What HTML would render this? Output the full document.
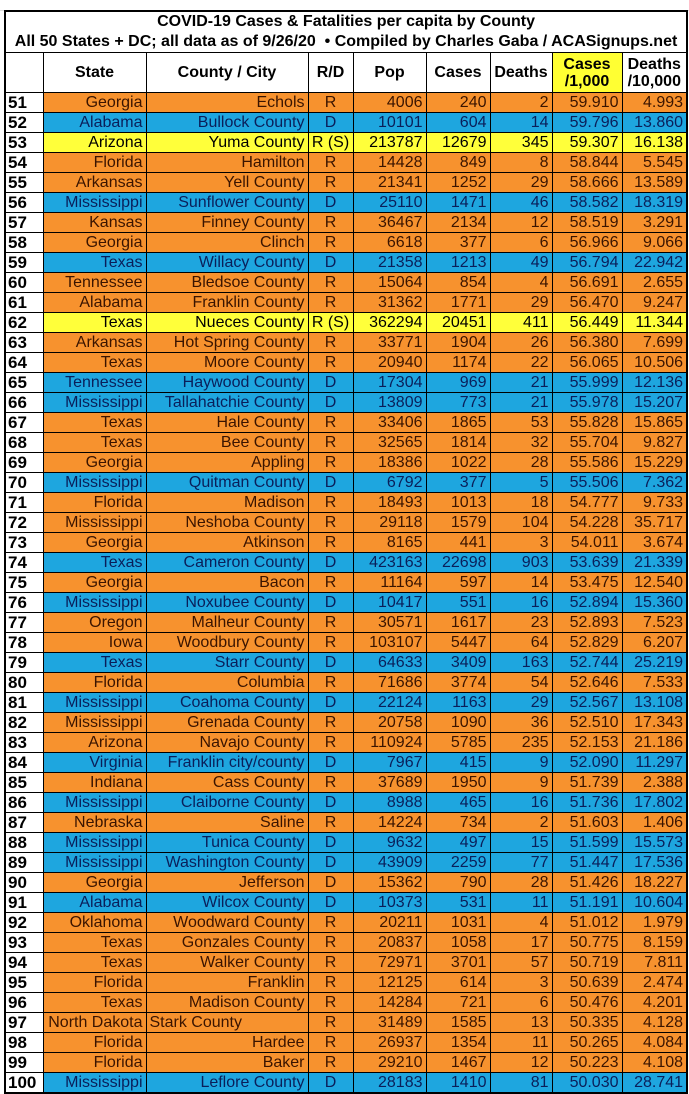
<!DOCTYPE html>
<html><head><meta charset="utf-8"><style>
body{margin:0;width:689px;height:1094px;background:#fff;overflow:hidden;position:relative;font-family:"Liberation Sans Narrow","Liberation Sans",sans-serif;}
.grid{position:absolute;left:0;top:0;width:689px;height:10px;border-bottom:1px solid #ddd}
table{position:absolute;left:4px;top:10px;border-collapse:collapse;table-layout:fixed;width:682px}
td{border:1px solid #000;padding:0 3px;height:19px;line-height:19px;font-size:16px;white-space:nowrap;overflow:hidden;text-align:right}
tr.t td{border:none;font-weight:bold;text-align:center;height:20px;line-height:20px;font-size:16px;padding:0}
tr.t.last td{border-bottom:1px solid #000}
tr.h td{height:39px;line-height:17px;font-weight:bold;text-align:center;background:#fff;font-size:16px;padding:0}
tr.h td.y{background:#ffff33}
td.n{font-weight:bold;text-align:left;background:#fff;color:#000;padding-left:2px;font-size:17px}
td.c{text-align:center}
tr.o td{background:#f7922e;color:#3a1400}
tr.b td{background:#1ea6df;color:#0a1f5a}
tr.y td{background:#ffff3a;color:#000}
tr td.n{background:#fff;color:#000}
table{border:2px solid #000}
</style></head><body>
<div class="grid"></div>
<table>
<colgroup><col style="width:38px"><col style="width:103px"><col style="width:162px"><col style="width:45px"><col style="width:73px"><col style="width:64px"><col style="width:62px"><col style="width:70px"><col style="width:65px"></colgroup>
<tr class="t"><td colspan="9">COVID-19 Cases &amp; Fatalities per capita by County</td></tr>
<tr class="t last"><td colspan="9">All 50 States + DC; all data as of 9/26/20 &nbsp;• Compiled by Charles Gaba / ACASignups.net</td></tr>
<tr class="h"><td></td><td>State</td><td>County / City</td><td>R/D</td><td>Pop</td><td>Cases</td><td>Deaths</td><td class="y">Cases<br>/1,000</td><td>Deaths<br>/10,000</td></tr>
<tr class="o"><td class="n">51</td><td>Georgia</td><td>Echols</td><td class="c">R</td><td>4006</td><td>240</td><td>2</td><td>59.910</td><td>4.993</td></tr>
<tr class="b"><td class="n">52</td><td>Alabama</td><td>Bullock County</td><td class="c">D</td><td>10101</td><td>604</td><td>14</td><td>59.796</td><td>13.860</td></tr>
<tr class="y"><td class="n">53</td><td>Arizona</td><td>Yuma County</td><td class="c">R (S)</td><td>213787</td><td>12679</td><td>345</td><td>59.307</td><td>16.138</td></tr>
<tr class="o"><td class="n">54</td><td>Florida</td><td>Hamilton</td><td class="c">R</td><td>14428</td><td>849</td><td>8</td><td>58.844</td><td>5.545</td></tr>
<tr class="o"><td class="n">55</td><td>Arkansas</td><td>Yell County</td><td class="c">R</td><td>21341</td><td>1252</td><td>29</td><td>58.666</td><td>13.589</td></tr>
<tr class="b"><td class="n">56</td><td>Mississippi</td><td>Sunflower County</td><td class="c">D</td><td>25110</td><td>1471</td><td>46</td><td>58.582</td><td>18.319</td></tr>
<tr class="o"><td class="n">57</td><td>Kansas</td><td>Finney County</td><td class="c">R</td><td>36467</td><td>2134</td><td>12</td><td>58.519</td><td>3.291</td></tr>
<tr class="o"><td class="n">58</td><td>Georgia</td><td>Clinch</td><td class="c">R</td><td>6618</td><td>377</td><td>6</td><td>56.966</td><td>9.066</td></tr>
<tr class="b"><td class="n">59</td><td>Texas</td><td>Willacy County</td><td class="c">D</td><td>21358</td><td>1213</td><td>49</td><td>56.794</td><td>22.942</td></tr>
<tr class="o"><td class="n">60</td><td>Tennessee</td><td>Bledsoe County</td><td class="c">R</td><td>15064</td><td>854</td><td>4</td><td>56.691</td><td>2.655</td></tr>
<tr class="o"><td class="n">61</td><td>Alabama</td><td>Franklin County</td><td class="c">R</td><td>31362</td><td>1771</td><td>29</td><td>56.470</td><td>9.247</td></tr>
<tr class="y"><td class="n">62</td><td>Texas</td><td>Nueces County</td><td class="c">R (S)</td><td>362294</td><td>20451</td><td>411</td><td>56.449</td><td>11.344</td></tr>
<tr class="o"><td class="n">63</td><td>Arkansas</td><td>Hot Spring County</td><td class="c">R</td><td>33771</td><td>1904</td><td>26</td><td>56.380</td><td>7.699</td></tr>
<tr class="o"><td class="n">64</td><td>Texas</td><td>Moore County</td><td class="c">R</td><td>20940</td><td>1174</td><td>22</td><td>56.065</td><td>10.506</td></tr>
<tr class="b"><td class="n">65</td><td>Tennessee</td><td>Haywood County</td><td class="c">D</td><td>17304</td><td>969</td><td>21</td><td>55.999</td><td>12.136</td></tr>
<tr class="b"><td class="n">66</td><td>Mississippi</td><td>Tallahatchie County</td><td class="c">D</td><td>13809</td><td>773</td><td>21</td><td>55.978</td><td>15.207</td></tr>
<tr class="o"><td class="n">67</td><td>Texas</td><td>Hale County</td><td class="c">R</td><td>33406</td><td>1865</td><td>53</td><td>55.828</td><td>15.865</td></tr>
<tr class="o"><td class="n">68</td><td>Texas</td><td>Bee County</td><td class="c">R</td><td>32565</td><td>1814</td><td>32</td><td>55.704</td><td>9.827</td></tr>
<tr class="o"><td class="n">69</td><td>Georgia</td><td>Appling</td><td class="c">R</td><td>18386</td><td>1022</td><td>28</td><td>55.586</td><td>15.229</td></tr>
<tr class="b"><td class="n">70</td><td>Mississippi</td><td>Quitman County</td><td class="c">D</td><td>6792</td><td>377</td><td>5</td><td>55.506</td><td>7.362</td></tr>
<tr class="o"><td class="n">71</td><td>Florida</td><td>Madison</td><td class="c">R</td><td>18493</td><td>1013</td><td>18</td><td>54.777</td><td>9.733</td></tr>
<tr class="o"><td class="n">72</td><td>Mississippi</td><td>Neshoba County</td><td class="c">R</td><td>29118</td><td>1579</td><td>104</td><td>54.228</td><td>35.717</td></tr>
<tr class="o"><td class="n">73</td><td>Georgia</td><td>Atkinson</td><td class="c">R</td><td>8165</td><td>441</td><td>3</td><td>54.011</td><td>3.674</td></tr>
<tr class="b"><td class="n">74</td><td>Texas</td><td>Cameron County</td><td class="c">D</td><td>423163</td><td>22698</td><td>903</td><td>53.639</td><td>21.339</td></tr>
<tr class="o"><td class="n">75</td><td>Georgia</td><td>Bacon</td><td class="c">R</td><td>11164</td><td>597</td><td>14</td><td>53.475</td><td>12.540</td></tr>
<tr class="b"><td class="n">76</td><td>Mississippi</td><td>Noxubee County</td><td class="c">D</td><td>10417</td><td>551</td><td>16</td><td>52.894</td><td>15.360</td></tr>
<tr class="o"><td class="n">77</td><td>Oregon</td><td>Malheur County</td><td class="c">R</td><td>30571</td><td>1617</td><td>23</td><td>52.893</td><td>7.523</td></tr>
<tr class="o"><td class="n">78</td><td>Iowa</td><td>Woodbury County</td><td class="c">R</td><td>103107</td><td>5447</td><td>64</td><td>52.829</td><td>6.207</td></tr>
<tr class="b"><td class="n">79</td><td>Texas</td><td>Starr County</td><td class="c">D</td><td>64633</td><td>3409</td><td>163</td><td>52.744</td><td>25.219</td></tr>
<tr class="o"><td class="n">80</td><td>Florida</td><td>Columbia</td><td class="c">R</td><td>71686</td><td>3774</td><td>54</td><td>52.646</td><td>7.533</td></tr>
<tr class="b"><td class="n">81</td><td>Mississippi</td><td>Coahoma County</td><td class="c">D</td><td>22124</td><td>1163</td><td>29</td><td>52.567</td><td>13.108</td></tr>
<tr class="o"><td class="n">82</td><td>Mississippi</td><td>Grenada County</td><td class="c">R</td><td>20758</td><td>1090</td><td>36</td><td>52.510</td><td>17.343</td></tr>
<tr class="o"><td class="n">83</td><td>Arizona</td><td>Navajo County</td><td class="c">R</td><td>110924</td><td>5785</td><td>235</td><td>52.153</td><td>21.186</td></tr>
<tr class="b"><td class="n">84</td><td>Virginia</td><td>Franklin city/county</td><td class="c">D</td><td>7967</td><td>415</td><td>9</td><td>52.090</td><td>11.297</td></tr>
<tr class="o"><td class="n">85</td><td>Indiana</td><td>Cass County</td><td class="c">R</td><td>37689</td><td>1950</td><td>9</td><td>51.739</td><td>2.388</td></tr>
<tr class="b"><td class="n">86</td><td>Mississippi</td><td>Claiborne County</td><td class="c">D</td><td>8988</td><td>465</td><td>16</td><td>51.736</td><td>17.802</td></tr>
<tr class="o"><td class="n">87</td><td>Nebraska</td><td>Saline</td><td class="c">R</td><td>14224</td><td>734</td><td>2</td><td>51.603</td><td>1.406</td></tr>
<tr class="b"><td class="n">88</td><td>Mississippi</td><td>Tunica County</td><td class="c">D</td><td>9632</td><td>497</td><td>15</td><td>51.599</td><td>15.573</td></tr>
<tr class="b"><td class="n">89</td><td>Mississippi</td><td>Washington County</td><td class="c">D</td><td>43909</td><td>2259</td><td>77</td><td>51.447</td><td>17.536</td></tr>
<tr class="o"><td class="n">90</td><td>Georgia</td><td>Jefferson</td><td class="c">D</td><td>15362</td><td>790</td><td>28</td><td>51.426</td><td>18.227</td></tr>
<tr class="b"><td class="n">91</td><td>Alabama</td><td>Wilcox County</td><td class="c">D</td><td>10373</td><td>531</td><td>11</td><td>51.191</td><td>10.604</td></tr>
<tr class="o"><td class="n">92</td><td>Oklahoma</td><td>Woodward County</td><td class="c">R</td><td>20211</td><td>1031</td><td>4</td><td>51.012</td><td>1.979</td></tr>
<tr class="o"><td class="n">93</td><td>Texas</td><td>Gonzales County</td><td class="c">R</td><td>20837</td><td>1058</td><td>17</td><td>50.775</td><td>8.159</td></tr>
<tr class="o"><td class="n">94</td><td>Texas</td><td>Walker County</td><td class="c">R</td><td>72971</td><td>3701</td><td>57</td><td>50.719</td><td>7.811</td></tr>
<tr class="o"><td class="n">95</td><td>Florida</td><td>Franklin</td><td class="c">R</td><td>12125</td><td>614</td><td>3</td><td>50.639</td><td>2.474</td></tr>
<tr class="o"><td class="n">96</td><td>Texas</td><td>Madison County</td><td class="c">R</td><td>14284</td><td>721</td><td>6</td><td>50.476</td><td>4.201</td></tr>
<tr class="o"><td class="n">97</td><td>North Dakota</td><td style="text-align:left">Stark County</td><td class="c">R</td><td>31489</td><td>1585</td><td>13</td><td>50.335</td><td>4.128</td></tr>
<tr class="o"><td class="n">98</td><td>Florida</td><td>Hardee</td><td class="c">R</td><td>26937</td><td>1354</td><td>11</td><td>50.265</td><td>4.084</td></tr>
<tr class="o"><td class="n">99</td><td>Florida</td><td>Baker</td><td class="c">R</td><td>29210</td><td>1467</td><td>12</td><td>50.223</td><td>4.108</td></tr>
<tr class="b"><td class="n">100</td><td>Mississippi</td><td>Leflore County</td><td class="c">D</td><td>28183</td><td>1410</td><td>81</td><td>50.030</td><td>28.741</td></tr>
</table>
</body></html>
